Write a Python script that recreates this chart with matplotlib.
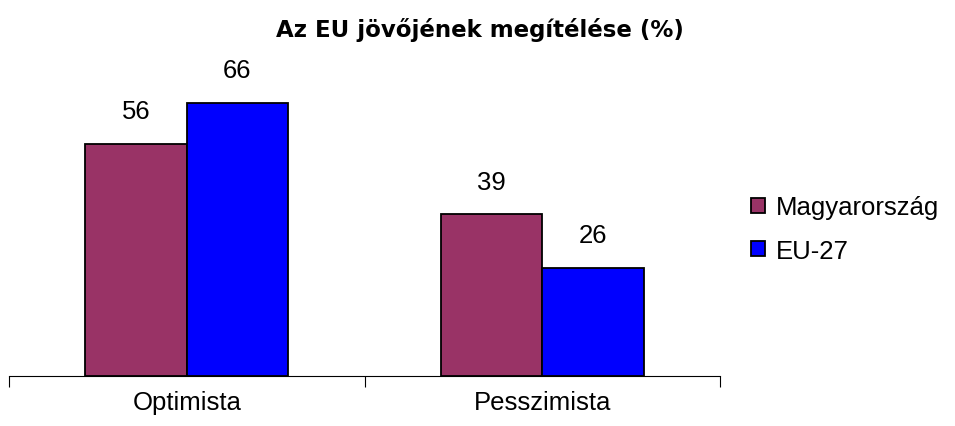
import matplotlib
matplotlib.use("Agg")
import matplotlib.pyplot as plt
import numpy as np

plt.rcParams["font.family"] = ["Liberation Sans", "DejaVu Sans"]

categories = ["Optimista", "Pesszimista"]
series_names = ["Magyarország", "EU-27"]
hu_values = [56, 39]
eu_values = [66, 26]
colors = ["#993366", "#0000FF"]

W, H = 955, 427
fig = plt.figure(figsize=(W / 100, H / 100), dpi=100)
ax = fig.add_axes([9 / W, 1 - 377 / H, (720 - 9) / W, (377 - 87) / H])

x = np.arange(len(categories))
width = 0.285
for i, (vals, name, col) in enumerate(zip([hu_values, eu_values], series_names, colors)):
    pos = x + (i - 0.5) * width
    bars = ax.bar(pos, vals, width, color=col, edgecolor="black", linewidth=1.3,
                  label=name, zorder=3)
    for b, v in zip(bars, vals):
        ax.annotate(str(v), (b.get_x() + b.get_width() / 2, v),
                    xytext=(0, 15), textcoords="offset points",
                    ha="center", va="bottom", fontsize=18.5)

ax.set_xlim(-0.5, 1.5)
ax.set_ylim(0, 70)
for s in ("top", "right", "left"):
    ax.spines[s].set_visible(False)
ax.spines["bottom"].set_linewidth(0.8)
ax.set_yticks([])
ax.set_xticks([-0.5, 0.5, 1.5])
ax.set_xticklabels([])
ax.set_xticks(x, minor=True)
ax.set_xticklabels(categories, minor=True, fontsize=18.5)
ax.tick_params(axis="x", which="major", length=8, width=0.8, direction="out")
ax.tick_params(axis="x", which="minor", length=0, pad=10)

fig.text(480 / W, 1 - 30 / H, "Az EU jövőjének megítélése (%)", ha="center",
         va="center", fontsize=16.5, fontweight="bold",
         family=["DejaVu Sans"])

leg = ax.legend(loc="center left", bbox_to_anchor=(728 / W, 1 - 230 / H),
                bbox_transform=fig.transFigure, frameon=False, fontsize=18.5,
                handlelength=0.55, handleheight=0.55, handletextpad=0.4,
                labelspacing=0.75)

fig.savefig("out.png", dpi=100)
